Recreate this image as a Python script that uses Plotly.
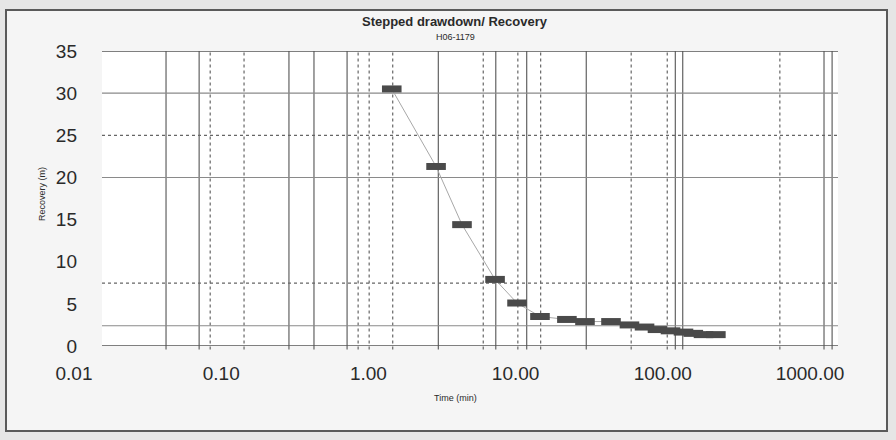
import plotly.graph_objects as go

# ---- data ----
time_min = [0.93, 1.86, 2.79, 4.68, 6.60, 9.45, 14.4, 19.1, 28.7, 38.3,
            48.5, 59.4, 72.8, 89.2, 104, 122, 148]
recovery_m = [30.5, 21.3, 14.4, 7.9, 5.1, 3.5, 3.15, 2.9, 2.9, 2.5,
              2.25, 1.95, 1.8, 1.65, 1.5, 1.35, 1.35]

x_tick_vals = [0.01, 0.1, 1, 10, 100, 1000]
x_tick_text = ["0.01", "0.10", "1.00", "10.00", "100.00", "1000.00"]
y_tick_vals = [0, 5, 10, 15, 20, 25, 30, 35]

title_text = "Stepped drawdown/ Recovery"
subtitle_text = "H06-1179"
x_title = "Time (min)"
y_title = "Recovery (m)"

# ---- decorative (scanned) grid lines ----
vgrid_solid = [0.087, 0.132, 0.254, 0.288, 0.333, 0.457, 0.535, 0.577,
               0.658, 0.779, 0.789, 0.981, 0.992]
vgrid_dot = [0.147, 0.193, 0.348, 0.363, 0.395, 0.518, 0.565, 0.596,
             0.719, 0.768, 0.921]
hgrid_solid = [35, 30, 20, 2.4, 0]
hgrid_dot = [25, 7.45]

FONT = "Liberation Sans, Arial, sans-serif"
W, H = 896, 440

fig = go.Figure()

fig.add_trace(go.Scatter(
    x=time_min, y=recovery_m, mode="lines+markers",
    line=dict(color="#a8a8a8", width=1),
    marker=dict(symbol="line-ew", size=14, color="#4a4a4a",
                line=dict(color="#4a4a4a", width=7)),
    showlegend=False, hoverinfo="x+y",
))

shapes = []
# outer chart frame
shapes.append(dict(type="rect", xref="paper", yref="paper",
                   x0=-102 / 736 + 6 / 736, x1=(887 - 102) / 736,
                   y0=(346 - 431) / 295, y1=(346 - 10) / 295,
                   line=dict(color="#5a5a5a", width=2),
                   fillcolor="#f5f5f5", layer="below"))
# plot area
shapes.append(dict(type="rect", xref="x domain", yref="y domain",
                   x0=0, x1=1, y0=0, y1=1, line=dict(width=0),
                   fillcolor="#ffffff", layer="below"))
for fx in vgrid_solid:
    shapes.append(dict(type="line", xref="x domain", yref="y domain",
                       x0=fx, x1=fx, y0=-0.012, y1=1,
                       line=dict(color="#6e6e6e", width=1.3), layer="below"))
for fx in vgrid_dot:
    shapes.append(dict(type="line", xref="x domain", yref="y domain",
                       x0=fx, x1=fx, y0=-0.012, y1=1,
                       line=dict(color="#666666", width=1.2, dash="dot"),
                       layer="below"))
for yv in hgrid_solid:
    dark = yv in (0, 35)
    shapes.append(dict(type="line", xref="x domain", yref="y",
                       x0=0, x1=1, y0=yv, y1=yv,
                       line=dict(color="#555555" if dark else "#8a8a8a",
                                 width=1.5 if dark else 1.1),
                       layer="below"))
for yv in hgrid_dot:
    shapes.append(dict(type="line", xref="x domain", yref="y",
                       x0=0, x1=1, y0=yv, y1=yv,
                       line=dict(color="#666666", width=1.2, dash="dot"),
                       layer="below"))

annotations = [
    dict(text="<b>" + title_text + "</b>", xref="paper", yref="paper",
         x=(455 - 102) / 736, y=(346 - 21) / 295, showarrow=False,
         font=dict(family=FONT, size=13, color="#2a2a2a"),
         xanchor="center", yanchor="middle"),
    dict(text=subtitle_text, xref="paper", yref="paper",
         x=(455 - 102) / 736, y=(346 - 37) / 295, showarrow=False,
         font=dict(family=FONT, size=9, color="#2a2a2a"),
         xanchor="center", yanchor="middle"),
    dict(text=x_title, xref="paper", yref="paper",
         x=(455 - 102) / 736, y=(346 - 398) / 295, showarrow=False,
         font=dict(family=FONT, size=9, color="#2a2a2a"),
         xanchor="center", yanchor="middle"),
    dict(text=y_title, xref="paper", yref="paper", textangle=-90,
         x=(42 - 102) / 736, y=(346 - 194) / 295, showarrow=False,
         font=dict(family=FONT, size=9, color="#2a2a2a"),
         xanchor="center", yanchor="middle"),
]

fig.update_layout(
    width=W, height=H,
    margin=dict(l=102, r=58, t=51, b=94),
    paper_bgcolor="#e6e6e6", plot_bgcolor="rgba(0,0,0,0)",
    shapes=shapes, annotations=annotations,
    font=dict(family=FONT, color="#2a2a2a"),
    xaxis=dict(type="log", range=[-2, 3], tickvals=x_tick_vals,
               ticktext=x_tick_text, showgrid=False, zeroline=False,
               showline=False, ticks="", ticklabelshift=-28,
               ticklabelstandoff=14,
               tickfont=dict(family=FONT, size=19, color="#2a2a2a")),
    yaxis=dict(range=[0, 35], tickvals=y_tick_vals, showgrid=False,
               zeroline=False, showline=False, ticks="",
               ticklabelstandoff=24,
               tickfont=dict(family=FONT, size=19, color="#2a2a2a")),
)

fig.write_html("out.html")
